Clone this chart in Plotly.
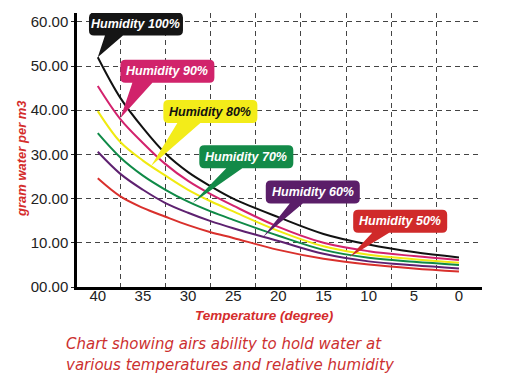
import plotly.graph_objects as go

# ---------------- data ----------------
temps = [40, 37.5, 35, 32.5, 30, 27.5, 25, 20, 15, 10, 5, 0]
hum_100 = [52.0, 42.8, 36.0, 30.2, 26.0, 22.8, 20.0, 15.8, 12.0, 9.6, 7.9, 6.7]
hum_90 = [45.5, 38.0, 32.6, 27.8, 24.0, 21.0, 18.4, 13.6, 10.0, 8.1, 7.0, 6.1]
hum_80 = [39.8, 32.8, 28.6, 25.2, 22.0, 19.4, 17.1, 12.7, 9.2, 7.3, 6.3, 5.5]
hum_70 = [34.8, 29.3, 25.2, 22.0, 19.3, 17.1, 15.2, 11.6, 8.4, 6.6, 5.7, 5.0]
hum_60 = [30.6, 25.6, 22.0, 19.0, 16.8, 14.9, 13.3, 10.4, 7.5, 5.8, 4.9, 4.2]
hum_50 = [24.6, 20.5, 17.9, 15.9, 14.0, 12.4, 11.1, 8.4, 6.4, 5.1, 4.2, 3.5]
series_names = ["Humidity 100%", "Humidity 90%", "Humidity 80%",
                "Humidity 70%", "Humidity 60%", "Humidity 50%"]
y_ticks = [0, 10, 20, 30, 40, 50, 60]
y_tick_text = ["00.00", "10.00", "20.00", "30.00", "40.00", "50.00", "60.00"]
x_ticks = [40, 35, 30, 25, 20, 15, 10, 5, 0]
x_grid = [37.5, 32.5, 27.5, 22.5, 17.5, 12.5, 7.5, 2.5, -2.5]

# ---------------- styles ----------------
line_colors = ["#111111", "#d3226d", "#f0ea10", "#0f8a47", "#5e2170", "#d9302c"]
box_colors = ["#151515", "#d1236b", "#f3ec19", "#138a48", "#5b1e69", "#d02a2a"]
text_colors = ["white", "white", "#111111", "white", "white", "white"]

W, H = 507, 388
L, R, T, B = 77, 25, 13, 101
PW, PH = W - L - R, H - T - B
XR = [42.3, -2.55]
YR = [0, 62]


def px2x(px):
    return XR[0] + (px - L) / PW * (XR[1] - XR[0])


def py2y(py):
    return YR[0] + (T + PH - py) / PH * (YR[1] - YR[0])


def x2px(x):
    return L + (x - XR[0]) / (XR[1] - XR[0]) * PW


def y2py(y):
    return T + PH - (y - YR[0]) / (YR[1] - YR[0]) * PH


fig = go.Figure()
all_series = [hum_100, hum_90, hum_80, hum_70, hum_60, hum_50]
for name, vals, col in zip(series_names, all_series, line_colors):
    fig.add_trace(go.Scatter(x=temps, y=vals, mode="lines", name=name,
                             line=dict(color=col, width=2, shape="spline", smoothing=1.0),
                             showlegend=False, hoverinfo="skip"))

# callouts: box center (data), tip (data), wedge base offsets (px from box left)
callouts = [
    dict(cx=35.77, cy=59.5, tx=temps[0], ty=hum_100[0], b0=16, b1=34),
    dict(cx=32.29, cy=48.8, tx=37.5, ty=38.2, b0=12, b1=32),
    dict(cx=27.53, cy=39.7, tx=34.1, ty=27.4, b0=14, b1=37),
    dict(cx=23.55, cy=29.5, tx=29.5, ty=19.0, b0=27, b1=43),
    dict(cx=16.19, cy=21.5, tx=21.7, ty=11.3, b0=24, b1=37),
    dict(cx=6.51, cy=14.9, tx=12.1, ty=6.8, b0=19, b1=36),
]
BW, BH, RAD = 94, 23, 5

shapes = []
annotations = []
for i, c in enumerate(callouts):
    cxp, cyp = x2px(c["cx"]), y2py(c["cy"])
    x0, x1 = cxp - BW / 2, cxp + BW / 2
    y0, y1 = cyp - BH / 2, cyp + BH / 2
    tpx, tpy = x2px(c["tx"]), y2py(c["ty"])

    def P(px, py):
        return f"{px2x(px):.4f},{py2y(py):.4f}"

    d = f"M {P(x0 + RAD, y0)} L {P(x1 - RAD, y0)} Q {P(x1, y0)} {P(x1, y0 + RAD)} "
    d += f"L {P(x1, y1 - RAD)} Q {P(x1, y1)} {P(x1 - RAD, y1)} "
    d += f"L {P(x0 + c['b1'], y1)} L {P(tpx, tpy)} L {P(x0 + c['b0'], y1)} "
    d += f"L {P(x0 + RAD, y1)} Q {P(x0, y1)} {P(x0, y1 - RAD)} "
    d += f"L {P(x0, y0 + RAD)} Q {P(x0, y0)} {P(x0 + RAD, y0)} Z"
    shapes.append(dict(type="path", path=d, xref="x", yref="y",
                       fillcolor=box_colors[i], line=dict(width=0), layer="above"))
    annotations.append(dict(x=c["cx"], y=c["cy"], xref="x", yref="y",
                            xanchor="center", yanchor="middle",
                            text=f"<b><i>{series_names[i]}</i></b>", showarrow=False,
                            font=dict(family="Liberation Sans, Arial", size=12.5,
                                      color=text_colors[i])))

red = "#d42c2c"


def paper(px, py):
    return (px - L) / PW, (T + PH - py) / PH


ax_, ay_ = paper(21, 159)
annotations.append(dict(x=ax_, y=ay_, xref="paper", yref="paper", xanchor="center", yanchor="middle",
                        text="<b><i>gram water per m3</i></b>", textangle=-90, showarrow=False,
                        font=dict(family="Liberation Sans, Arial", size=13, color=red)))
ax_, ay_ = paper(264, 315)
annotations.append(dict(x=ax_, y=ay_, xref="paper", yref="paper", xanchor="center", yanchor="middle",
                        text="<b><i>Temperature (degree)</i></b>", showarrow=False,
                        font=dict(family="Liberation Sans, Arial", size=13.5, color=red)))
cap_font = dict(family="DejaVu Sans", size=15, color="#cc3030")
ax_, ay_ = paper(64, 344)
annotations.append(dict(x=ax_, y=ay_, xref="paper", yref="paper", xanchor="left", yanchor="middle",
                        text="<i>Chart showing airs ability to hold water at</i>",
                        showarrow=False, font=cap_font))
ax_, ay_ = paper(64, 365)
annotations.append(dict(x=ax_, y=ay_, xref="paper", yref="paper", xanchor="left", yanchor="middle",
                        text="<i>various temperatures and relative humidity</i>",
                        showarrow=False, font=cap_font))

grid_style = dict(gridcolor="#444444", gridwidth=1, griddash="5px,4px")
tick_font = dict(family="Liberation Sans, Arial", size=15, color="#222")

fig.update_layout(
    width=W, height=H,
    margin=dict(l=L, r=R, t=T, b=B),
    paper_bgcolor="white", plot_bgcolor="white",
    shapes=shapes, annotations=annotations,
    xaxis=dict(range=XR, tickvals=x_ticks, ticktext=[str(v) for v in x_ticks],
               showgrid=False, zeroline=False, showline=True, linecolor="black", linewidth=2.5,
               ticks="", ticklabelstandoff=-7, tickfont=tick_font,
               minor=dict(tickvals=x_grid, showgrid=True, ticks="", **grid_style)),
    yaxis=dict(range=YR, tickvals=y_ticks, ticktext=y_tick_text,
               showgrid=True, zeroline=False, showline=True, linecolor="black", linewidth=2.5,
               ticks="outside", ticklen=3, tickcolor="#222", tickfont=tick_font,
               **grid_style),
)

fig.write_html("out.html", config={"displayModeBar": False},
               post_script="document.body.style.margin='0px';")
